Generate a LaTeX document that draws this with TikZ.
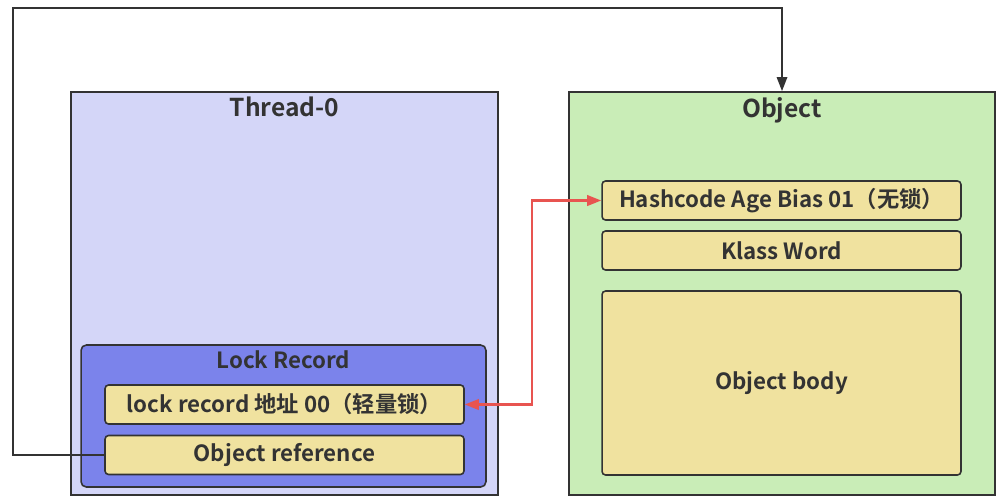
\documentclass[tikz,border=0pt]{standalone}
\usepackage{fontspec}
\setmainfont{Noto Sans CJK SC}[BoldFont={* Bold}]
\usetikzlibrary{arrows.meta}
\definecolor{ink}{HTML}{333333}
\definecolor{lavender}{HTML}{D4D6F8}
\definecolor{lockblue}{HTML}{7B83EB}
\definecolor{mint}{HTML}{C9EDB7}
\definecolor{straw}{HTML}{F0E29F}
\definecolor{alarm}{HTML}{E85450}

\begin{document}
\begin{tikzpicture}[
    x=0.02cm, y=-0.02cm,
    frame/.style={rectangle, draw=ink, line width=1.1pt, inner sep=0pt},
    field/.style={rectangle, draw=ink, fill=straw, line width=0.9pt,
                  rounded corners=2pt, minimum width=7.18cm, minimum height=0.78cm,
                  inner sep=0pt, font=\bfseries\fontsize{12.7}{15}\selectfont, text=ink},
    title/.style={anchor=north, font=\bfseries\fontsize{14}{16}\selectfont, text=ink},
    link/.style={line width=0.9pt, ink, -{Triangle[length=8pt, width=6pt]}}
]
  \useasboundingbox (0,0) rectangle (1003,498);

  % Thread side
  \node[frame, fill=lavender, minimum width=8.54cm, minimum height=8.06cm] (thread) at (284.5,293.5) {};
  \node[title] (threadtitle) at (thread.north) {Thread-0};
  \node[frame, fill=lockblue, rounded corners=3pt, line width=0.9pt,
        minimum width=8.1cm, minimum height=2.84cm] (lock) at (283.5,416) {};
  \node[title, font=\bfseries\fontsize{12.7}{15}\selectfont] (locktitle) at (lock.north) {Lock Record};
  \node[field] (lrec) at (284.5,404.5) {lock record 地址 00（轻量锁）};
  \node[field] (objref) at (284.5,455) {Object reference};

  % Object side
  \node[frame, fill=mint, minimum width=8.52cm, minimum height=8.06cm] (obj) at (782,293.5) {};
  \node[title] (objtitle) at (obj.north) {Object};
  \node[field] (hash) at (781.5,200.5) {Hashcode Age Bias 01（无锁）};
  \node[field] (klass) at (781.5,250.5) {Klass Word};
  \node[field, minimum height=3.68cm] (body) at (781.5,383) {Object body};

  % Object reference points back to the object
  \coordinate (loopcorner) at (13,8);
  \draw[link] (objref.west) -| (loopcorner) -| (obj.north);

  % Swapped mark word
  \coordinate (swapx) at (532,0);
  \draw[link, alarm, line width=1.2pt, {Triangle[length=8pt, width=6pt]}-{Triangle[length=8pt, width=6pt]}]
       (lrec.east) -- (lrec.east -| swapx) |- (hash.west);
\end{tikzpicture}
\end{document}
